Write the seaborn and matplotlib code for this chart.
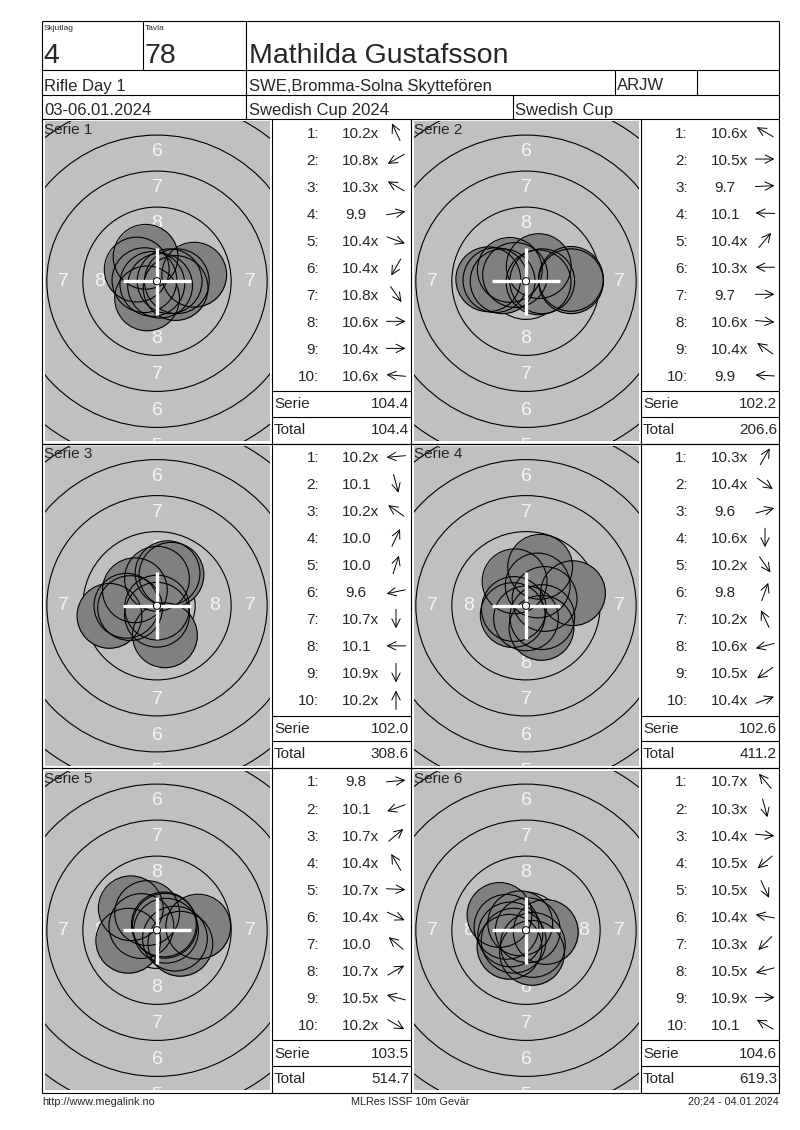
import numpy as np
import matplotlib
matplotlib.use("Agg")
import matplotlib.pyplot as plt
from matplotlib.patches import Circle
import seaborn as sns

# shots as printed in the list, and arrow directions (deg, 0 = right, 90 = up)
serie1_shots = ["10.2x", "10.8x", "10.3x", "9.9", "10.4x", "10.4x", "10.8x", "10.6x", "10.4x", "10.6x"]
serie1_dirs = [115, 210, 150, 10, -20, 240, -55, 0, 0, 175]
serie2_shots = ["10.6x", "10.5x", "9.7", "10.1", "10.4x", "10.3x", "9.7", "10.6x", "10.4x", "9.9"]
serie2_dirs = [150, 0, 3, 178, 50, 180, 0, -5, 145, 177]
serie3_shots = ["10.2x", "10.1", "10.2x", "10.0", "10.0", "9.6", "10.7x", "10.1", "10.9x", "10.2x"]
serie3_dirs = [185, -75, 145, 65, 72, 192, 270, 180, 270, 90]
serie4_shots = ["10.3x", "10.4x", "9.6", "10.6x", "10.2x", "9.8", "10.2x", "10.6x", "10.5x", "10.4x"]
serie4_dirs = [60, -35, 15, 270, -55, 70, 115, 195, 215, 20]
serie5_shots = ["9.8", "10.1", "10.7x", "10.4x", "10.7x", "10.4x", "10.0", "10.7x", "10.5x", "10.2x"]
serie5_dirs = [5, 200, 40, 120, -3, -25, 140, 30, 165, -30]
serie6_shots = ["10.7x", "10.3x", "10.4x", "10.5x", "10.5x", "10.4x", "10.3x", "10.5x", "10.9x", "10.1"]
serie6_dirs = [130, -75, -5, 220, -65, 170, 225, 195, 0, 150]

serie_sums = ["104.4", "102.2", "102.0", "102.6", "103.5", "104.6"]
totals = ["104.4", "206.6", "308.6", "411.2", "514.7", "619.3"]

all_shots = [serie1_shots, serie2_shots, serie3_shots, serie4_shots, serie5_shots, serie6_shots]
all_dirs = [serie1_dirs, serie2_dirs, serie3_dirs, serie4_dirs, serie5_dirs, serie6_dirs]

sns.set_theme(style="white")
plt.rcParams['font.family'] = ['Liberation Sans', 'DejaVu Sans']

PX_PER_MM = 14.4
PELLET_R = 2.25
RING_RADII = [0.25 + 2.5 * k for k in range(1, 10)]  # rings 9..1
LINE_W = 0.8

fig = plt.figure(figsize=(8, 11.3), dpi=100)
bg = fig.add_axes([0, 0, 1, 1])
bg.set_xlim(0, 800)
bg.set_ylim(1130, 0)
bg.axis('off')


def rect(x, y, w, h):
    return [x / 800, 1 - (y + h) / 1130, w / 800, h / 1130]


def hline(y, x0, x1):
    bg.plot([x0, x1], [y, y], color='black', lw=LINE_W, solid_capstyle='butt')


def vline(x, y0, y1):
    bg.plot([x, x], [y0, y1], color='black', lw=LINE_W, solid_capstyle='butt')


L, R, T, B = 42, 779, 21, 1093
# header grid
hline(T, L, R)
hline(70, L, R)
hline(95, L, R)
hline(119, L, R)
hline(B, L, R)
vline(L, T, B)
vline(R, T, B)
vline(143, T, 70)
vline(246, T, 119)
vline(615, 70, 95)
vline(697, 70, 95)
vline(513, 95, 119)

bg.text(44, 30.5, "Skjutlag", fontsize=6, va='baseline')
bg.text(145, 30.5, "Tavla", fontsize=6, va='baseline')
bg.text(43, 63, "4", fontsize=20.5, va='baseline')
bg.text(145, 63, "78", fontsize=20.5, va='baseline')
bg.text(249, 63, "Mathilda Gustafsson", fontsize=20.5, va='baseline')
bg.text(44, 90.5, "Rifle Day 1", fontsize=12, va='baseline')
bg.text(249, 90.5, "SWE,Bromma-Solna Skyttefören", fontsize=12, va='baseline')
bg.text(617, 90.5, "ARJW", fontsize=12, va='baseline')
bg.text(44, 115, "03-06.01.2024", fontsize=12, va='baseline')
bg.text(249, 115, "Swedish Cup 2024", fontsize=12, va='baseline')
bg.text(515, 115, "Swedish Cup", fontsize=12, va='baseline')

bg.text(42, 1105, "http://www.megalink.no", fontsize=7.8, va='baseline')
bg.text(410, 1105, "MLRes ISSF 10m Gevär", fontsize=7.8, va='baseline', ha='center')
bg.text(779, 1105, "20:24 - 04.01.2024", fontsize=7.8, va='baseline', ha='right')

PANEL_X = [42, 411]
LIST_RIGHT = [411, 779]
PANEL_Y = [119, 443.5, 768]
CELL_W, CELL_H = 230, 324.5

# pellet marker size in points^2
pellet_pt = 2 * PELLET_R * PX_PER_MM * 72 / 100
S = pellet_pt ** 2

for k in range(6):
    r, c = divmod(k, 2)
    px, py = PANEL_X[c], PANEL_Y[r]
    lx, lr = px + CELL_W, LIST_RIGHT[c]
    if r > 0:
        hline(py, L, R)
    vline(lx, py, py + CELL_H)
    if c == 1:
        vline(px, py, py + CELL_H)

    # target
    W, H = CELL_W - 5, CELL_H - 5
    ax = fig.add_axes(rect(px + 2.5, py + 2.5, W, H))
    ax.set_facecolor('#c0c0c0')
    ax.set_xlim(-W / 2 / PX_PER_MM, W / 2 / PX_PER_MM)
    ax.set_ylim(-H / 2 / PX_PER_MM, H / 2 / PX_PER_MM)
    ax.set_xticks([])
    ax.set_yticks([])
    for sp in ax.spines.values():
        sp.set_visible(False)
    for rr in RING_RADII:
        ax.add_patch(Circle((0, 0), rr - 0.1, fill=False, ec='black', lw=LINE_W, zorder=1))
    for n in [8, 7, 6, 5]:
        rm = (10 - n) * 2.5 - 1.0
        for (tx, ty) in [(0, rm), (0, -rm), (rm, 0), (-rm, 0)]:
            if abs(tx) < W / 2 / PX_PER_MM:
                ax.text(tx, ty, str(n), color='#f4f4f4', fontsize=14, ha='center', va='center',
                        zorder=2, clip_on=True)

    vals = np.array([float(s.rstrip('x')) for s in all_shots[k]])
    ang = np.radians(np.array(all_dirs[k], dtype=float))
    dist = (10.9 - vals) * 2.5 + 0.125
    xs, ys = dist * np.cos(ang), dist * np.sin(ang)
    sns.scatterplot(x=xs, y=ys, ax=ax, s=S, color='#808080', linewidth=0, zorder=3, legend=False)
    sns.scatterplot(x=xs, y=ys, ax=ax, s=S, color='black', facecolors='none', edgecolor='black',
                    linewidth=LINE_W, zorder=4, legend=False)
    ax.plot([-2.33, 2.33], [0, 0], color='white', lw=2.4, zorder=5, solid_capstyle='butt')
    ax.plot([0, 0], [-2.33, 2.33], color='white', lw=2.4, zorder=5, solid_capstyle='butt')
    ax.add_patch(Circle((0, 0), 0.25, fc='white', ec='black', lw=0.7, zorder=6))
    ax.set_xlabel('')
    ax.set_ylabel('')
    ax.annotate(f"Serie {k + 1}", xy=(0, 1), xycoords='axes fraction', xytext=(0, -1),
                textcoords='offset points', fontsize=11, ha='left', va='top', zorder=7)

    # shot list
    for i, (txt, a) in enumerate(zip(all_shots[k], all_dirs[k])):
        yc = py + 13 + i * 27.05
        bg.text(lx + 47, yc + 5.5, f"{i + 1}:", fontsize=11, ha='right', va='baseline')
        sx = lx + 70 if vals[i] >= 10 else lx + 73.3
        bg.text(sx, yc + 5.5, txt, fontsize=11, ha='left', va='baseline')
        t = np.radians(a)
        cx, half = lx + 124, 9.5
        dx, dy = half * np.cos(t), -half * np.sin(t)
        bg.annotate('', xy=(cx + dx, yc + dy), xytext=(cx - dx, yc - dy),
                    arrowprops=dict(arrowstyle='->,head_length=0.5,head_width=0.25',
                                    lw=0.7, color='black', shrinkA=0, shrinkB=0))
    hline(py + 272, lx, lr)
    hline(py + 297.5, lx, lr)
    bg.text(lx + 2, py + 289.5, "Serie", fontsize=11, va='baseline')
    bg.text(lr - 2, py + 289.5, serie_sums[k], fontsize=11, va='baseline', ha='right')
    bg.text(lx + 2, py + 315, "Total", fontsize=11, va='baseline')
    bg.text(lr - 2, py + 315, totals[k], fontsize=11, va='baseline', ha='right')

fig.savefig("out.png", dpi=100)
